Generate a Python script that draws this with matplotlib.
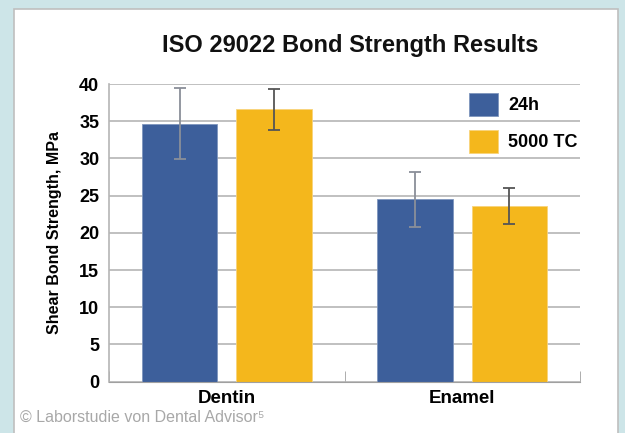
import matplotlib
matplotlib.use("Agg")
from matplotlib import pyplot as plt
from matplotlib.patches import Rectangle
import numpy as np

categories = ["Dentin", "Enamel"]
series_names = ["24h", "5000 TC"]
values_24h = [34.7, 24.5]
errors_24h = [4.8, 3.65]
values_tc = [36.6, 23.6]
errors_tc = [2.75, 2.45]

blue = "#3d5f9b"
yellow = "#f4b71c"

plt.rcParams["font.family"] = ["Liberation Sans", "DejaVu Sans"]

fig = plt.figure(figsize=(6.25, 4.33), dpi=100)
fig.patch.set_facecolor("#cde5e8")
# white panel
fig.patches.append(Rectangle((14 / 625, -0.05), 604 / 625, 1.05 - 9 / 433,
                             transform=fig.transFigure, facecolor="white",
                             edgecolor="#bfbfbf", linewidth=1.2, zorder=-1))

ax = fig.add_axes([0.1744, 0.1187, 0.7536, 0.687])
x = np.arange(len(categories))
w = 0.32
off = 0.2

ax.bar(x - off, values_24h, w, color=blue, edgecolor="#7f95bd", linewidth=0.6,
       label=series_names[0], zorder=2)
ax.bar(x + off, values_tc, w, color=yellow, edgecolor="#f8d47a", linewidth=0.6,
       label=series_names[1], zorder=2)
ax.errorbar(x - off, values_24h, yerr=errors_24h, fmt="none", ecolor="#8a8f99",
            elinewidth=1.3, capsize=4, capthick=1.3, zorder=3)
ax.errorbar(x + off, values_tc, yerr=errors_tc, fmt="none", ecolor="#555555",
            elinewidth=1.3, capsize=4, capthick=1.3, zorder=3)

ax.set_xlim(-0.5, 1.5)
ax.set_ylim(0, 40)
ax.set_yticks(np.arange(0, 41, 5))
ax.yaxis.grid(True, color="#b5b5b5", linewidth=1.2, zorder=0)
ax.set_axisbelow(True)
ax.tick_params(axis="y", length=0, pad=7, labelsize=13)
for lbl in ax.get_yticklabels():
    lbl.set_fontweight("bold")

ax.set_xticks(x)
ax.set_xticklabels(categories, fontsize=13.5, fontweight="bold")
ax.tick_params(axis="x", which="major", length=0, pad=6)
ax.set_xticks([-0.5, 0.5, 1.5], minor=True)
ax.tick_params(axis="x", which="minor", direction="in", length=8, color="#a0a0a0")

for s in ["top", "right"]:
    ax.spines[s].set_visible(False)
ax.spines["left"].set_color("#b5b5b5")
ax.spines["bottom"].set_color("#a0a0a0")
ax.spines["left"].set_linewidth(1.2)

ax.set_ylabel("Shear Bond Strength, MPa", fontsize=11.5, fontweight="bold", labelpad=12)

ax.legend(loc="upper right", bbox_to_anchor=(1.03, 1.025), frameon=False,
          prop={"weight": "bold", "size": 13},
          handlelength=1.6, handleheight=1.6, labelspacing=0.75, handletextpad=0.6)

fig.text(0.56, 0.895, "ISO 29022 Bond Strength Results", ha="center", va="center",
         fontsize=17, fontweight="bold", color="#111111")
fig.text(20 / 625, 0.035, "\u00a9 Laborstudie von Dental Advisor\u2075", ha="left",
         va="center", fontsize=11.5, color="#a8a8a8",
         family=["Liberation Sans Narrow", "Liberation Sans", "DejaVu Sans"])

fig.savefig("out.png", dpi=100, facecolor=fig.get_facecolor())
